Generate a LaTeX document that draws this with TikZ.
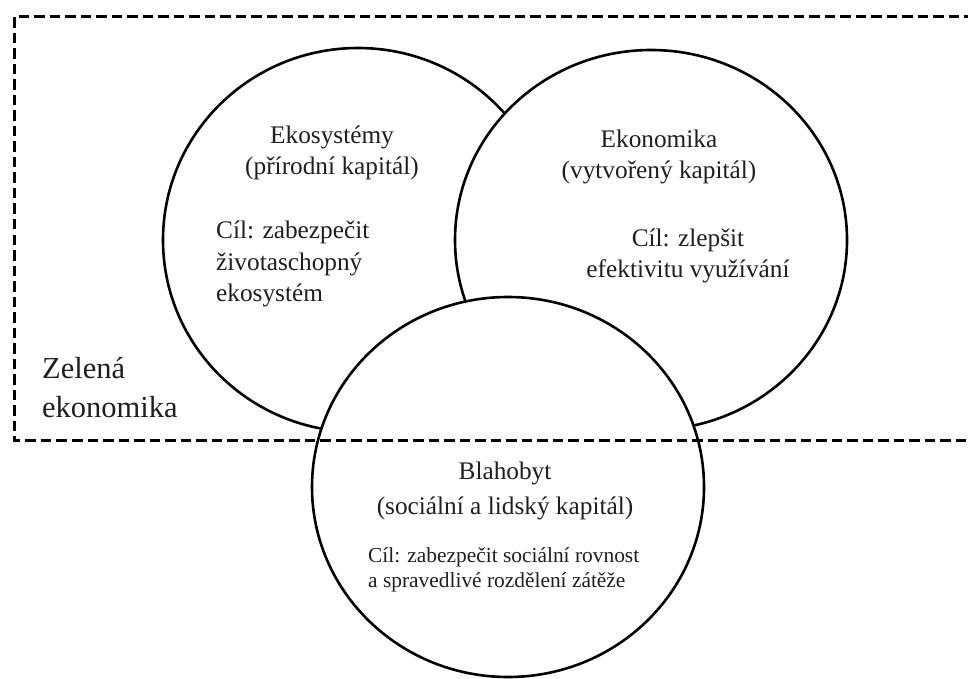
\documentclass[tikz,border=0pt]{standalone}
\usepackage{fontspec}
\setmainfont{Liberation Serif}
\begin{document}
\begin{tikzpicture}[x=1pt,y=-1pt,
  ring/.style={draw=black,line width=2.6pt,fill=white},
  zone/.style={draw=black,line width=3pt,dash pattern=on 10.5pt off 5pt},
  txt/.style={inner sep=0pt,font=\fontsize{25.3}{31.5}\selectfont,text=black!88},
  small/.style={inner sep=0pt,font=\fontsize{21.4}{25}\selectfont,text=black!88},
  big/.style={inner sep=0pt,font=\fontsize{30.5}{39}\selectfont,text=black!88}]
\useasboundingbox (0,0) rectangle (968,679);
\clip (0,0) rectangle (968,679);
% circles
\coordinate (c1) at (358,240);
\coordinate (c2) at (651,240);
\coordinate (c3) at (508,487);
\draw[ring] (c1) ellipse [x radius=195pt, y radius=192pt];
\draw[ring] (c2) ellipse [x radius=196pt, y radius=190pt];
\draw[ring] (c3) ellipse [x radius=196pt, y radius=190pt];
% dashed zone
\coordinate (z1) at (990,17);
\coordinate (z2) at (14,17);
\coordinate (z3) at (14,440);
\coordinate (z4) at (990,440);
\draw[zone] (z1) -- (z2) -- (z3) -- (z4);
% texts
\node[txt,align=center] (t1) at (332,153) {Ekosystémy\\(přírodní kapitál)};
\node[txt,align=left,anchor=west] (g1) at (216,264) {Cíl: zabezpečit\\životaschopný\\ekosystém};
\node[txt,align=center] (t2) at (659,157) {Ekonomika\\(vytvořený kapitál)};
\node[txt,align=center] (g2) at (688,256) {Cíl: zlepšit\\efektivitu využívání};
\node[big,align=left,anchor=west] (ze) at (42,388) {Zelená\\ekonomika};
\node[txt,align=center,font=\fontsize{25.3}{34.5}\selectfont] (t3) at (505,491) {Blahobyt\\(sociální a lidský kapitál)};
\node[small,align=left,anchor=west] (g3) at (368,570) {Cíl: zabezpečit sociální rovnost\\a spravedlivé rozdělení zátěže};
\end{tikzpicture}
\end{document}
